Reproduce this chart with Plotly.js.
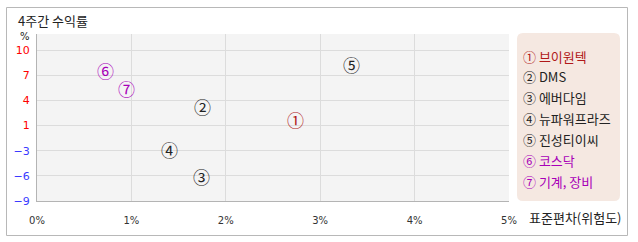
<!DOCTYPE html>
<html><head><meta charset="utf-8">
<script src="https://cdn.plot.ly/plotly-3.0.1.min.js"></script>
<style>html,body{margin:0;padding:0;background:#fff}#chart{width:638px;height:242px}</style>
</head><body><div id="chart"></div>
<script>
// ---- data ----
const labels = ['①','②','③','④','⑤','⑥','⑦'];
const names = ['브이원텍','DMS','에버다임','뉴파워프라즈','진성티이씨','코스닥','기계, 장비'];
const stdDev = [2.74, 1.75, 1.74, 1.40, 3.33, 0.73, 0.95];   // x, %
const returns4w = [1.26, 2.87, -5.92, -2.5, 8.23, 7.38, 5.15]; // y, %
const yTickVals = [-9, -5.833, -2.667, 0.5, 3.667, 6.833, 10];
const yTickLabels = ['-9','-6','-3','1','4','7','10'];
const xTickVals = [0,1,2,3,4,5];
const xTickLabels = ['0%','1%','2%','3%','4%','5%'];

// ---- styles ----
const colors = ['#b01818','#222222','#222222','#222222','#222222','#a800b8','#a800b8'];
const W=638,H=242,L=37,R=509,T=34,B=201;
const px2x = p => (p-L)/(R-L);
const px2y = p => (B-p)/(B-T);
const KR = '"Noto Sans CJK KR", "Noto Sans", sans-serif';

// invisible trace so the axes exist with the data
const traces = [{
  type:'scatter', mode:'markers', x:stdDev, y:returns4w,
  marker:{size:1, color:'rgba(0,0,0,0)'}, hoverinfo:'skip', showlegend:false
}];

function roundRect(x0,y0,x1,y1,r){
  const X=px2x, Y=px2y;
  return `M${X(x0+r)},${Y(y0)} L${X(x1-r)},${Y(y0)} Q${X(x1)},${Y(y0)} ${X(x1)},${Y(y0+r)} `+
         `L${X(x1)},${Y(y1-r)} Q${X(x1)},${Y(y1)} ${X(x1-r)},${Y(y1)} L${X(x0+r)},${Y(y1)} `+
         `Q${X(x0)},${Y(y1)} ${X(x0)},${Y(y1-r)} L${X(x0)},${Y(y0+r)} Q${X(x0)},${Y(y0)} ${X(x0+r)},${Y(y0)} Z`;
}

const shapes = [
  {type:'rect', xref:'paper', yref:'paper', x0:px2x(6.5), x1:px2x(627.5), y0:px2y(235.5), y1:px2y(7.5),
   line:{color:'#b8b8b8', width:1}, fillcolor:'rgba(0,0,0,0)', layer:'below'},
  {type:'path', xref:'paper', yref:'paper', path:roundRect(517,33,620,201,6),
   line:{width:0}, fillcolor:'#f5e8e1', layer:'below'}
];

const annotations = [
  {text:'4주간 수익률', xref:'paper', yref:'paper', x:px2x(16), y:px2y(20), xanchor:'left', yanchor:'middle',
   showarrow:false, font:{family:KR, size:13, color:'#222'}},
  {text:'%', xref:'paper', yref:'paper', x:px2x(25), y:px2y(36), xanchor:'center', yanchor:'middle',
   showarrow:false, font:{family:'DejaVu Sans, sans-serif', size:10, color:'#222'}},
  {text:'표준편차(위험도)', xref:'paper', yref:'paper', x:px2x(527), y:px2y(217), xanchor:'left', yanchor:'middle',
   showarrow:false, font:{family:KR, size:13, color:'#222'}}
];
labels.forEach((lab,i)=>{
  // point markers (circled numbers) placed through the axes' scales
  annotations.push({text:lab, xref:'x', yref:'y', x:stdDev[i], y:returns4w[i], xanchor:'center', yanchor:'middle',
    yshift:0, showarrow:false, font:{family:KR, size:17, color:colors[i]}});
  // legend entries
  annotations.push({text:lab+' '+names[i], xref:'paper', yref:'paper', x:px2x(521), y:px2y(56+i*20.9),
    xanchor:'left', yanchor:'middle', showarrow:false, font:{family:KR, size:13, color:colors[i]}});
});

const layout = {
  width:W, height:H, margin:{l:L, r:W-R, t:T, b:H-B, pad:0},
  paper_bgcolor:'#ffffff', plot_bgcolor:'#f4f4f4',
  showlegend:false,
  xaxis:{range:[0,5], tickvals:xTickVals, ticktext:xTickLabels, showgrid:true, gridcolor:'#dcdcdc',
    zeroline:false, showline:true, linecolor:'#b4b4b4', linewidth:1, ticks:'', ticklabelstandoff:10,
    tickfont:{family:'DejaVu Sans, sans-serif', size:10, color:'#333'}, fixedrange:true},
  yaxis:{range:[-9, 10+16*19/150], tickvals:yTickVals,
    ticktext:yTickLabels.map(t=>`<span style="color:${t.startsWith('-')?'#3a3aff':'#ff0000'}">${t.replace('-','−')}</span>`),
    showgrid:true, gridcolor:'#dcdcdc', zeroline:false, showline:true, linecolor:'#b4b4b4', linewidth:1,
    ticks:'', ticklabelstandoff:4, tickfont:{family:'DejaVu Sans, sans-serif', size:11}, fixedrange:true},
  shapes, annotations
};
Plotly.newPlot('chart', traces, layout, {displayModeBar:false, staticPlot:true});
</script></body></html>
